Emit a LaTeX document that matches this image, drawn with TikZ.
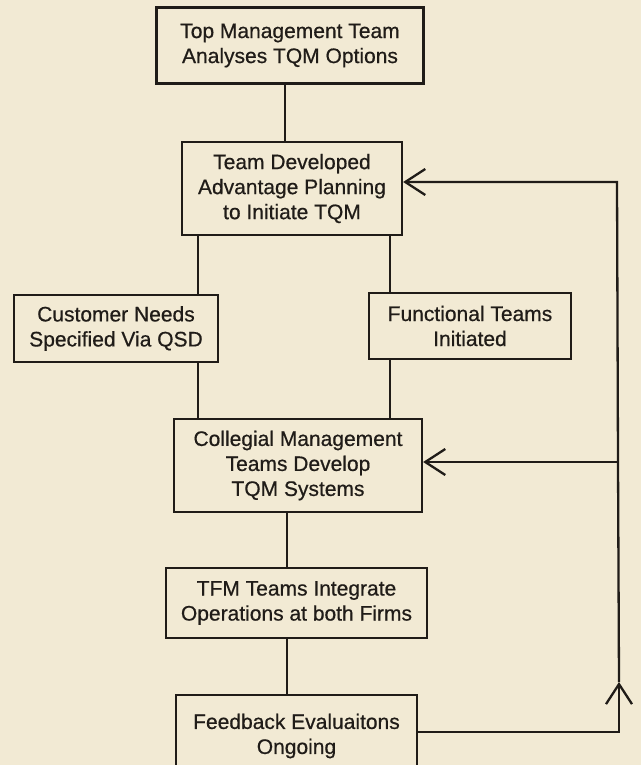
\documentclass[tikz,border=0pt]{standalone}
\usepackage{fontspec}
\setmainfont{Liberation Sans}[UprightFeatures={FakeBold=0.6}]
\usetikzlibrary{arrows.meta}
\definecolor{paper}{RGB}{242,234,212}
\definecolor{ink}{RGB}{32,28,24}
\begin{document}
\begin{tikzpicture}[x=1pt,y=-1pt,
  box/.style={draw=ink,line width=2.3pt,inner sep=0pt,align=center,text=ink,
    font=\fontsize{21}{25}\selectfont},
  conn/.style={draw=ink,line width=2.3pt},
  barb/.style={-{Straight Barb[length=20pt,width=26pt,line width=2.3pt]}}]
\fill[paper] (0,0) rectangle (641,765);
\useasboundingbox (0,0) rectangle (641,765);
\node[box,minimum width=267pt,minimum height=76pt] (b1) at (290,45.5) {Top Management Team\\Analyses TQM Options};
\node[box,minimum width=220pt,minimum height=93pt] (b2) at (292,188.5) {Team Developed\\Advantage Planning\\to Initiate TQM};
\node[box,minimum width=204pt,minimum height=67pt] (b3) at (116,328.5) {Customer Needs\\Specified Via QSD};
\node[box,minimum width=202pt,minimum height=66pt] (b4) at (470,326) {Functional Teams\\Initiated};
\node[box,minimum width=248pt,minimum height=93pt] (b5) at (298,465.5) {Collegial Management\\Teams Develop\\TQM Systems};
\node[box,minimum width=261pt,minimum height=70pt] (b6) at (296.5,603) {TFM Teams Integrate\\Operations at both Firms};
\node[box,minimum width=241pt,minimum height=82pt] (b7) at (296.5,736) {Feedback Evaluaitons\\Ongoing};
\coordinate (x285) at (285,0);
\coordinate (x198) at (198,0);
\coordinate (x390) at (390,0);
\coordinate (x287) at (287,0);
\coordinate (fbR) at (619,732);
\coordinate (fbArr) at (619,682);
\coordinate (fbMid) at (618,462);
\coordinate (fbTop) at (617,182);
\draw[conn] (b1.south -| x285) -- (b2.north -| x285);
\draw[conn] (b2.south -| x198) -- (b3.north -| x198);
\draw[conn] (b2.south -| x390) -- (b4.north -| x390);
\draw[conn] (b3.south -| x198) -- (b5.north -| x198);
\draw[conn] (b4.south -| x390) -- (b5.north -| x390);
\draw[conn] (b5.south -| x287) -- (b6.north -| x287);
\draw[conn] (b6.south -| x287) -- (b7.north -| x287);
\draw[conn,barb] (b7.east |- fbR) -- (fbR) -- (fbArr);
\draw[conn,barb] (fbArr) -- (fbMid) -- (fbTop) -- (b2.east |- fbTop);
\draw[conn,barb] (fbMid) -- (b5.east |- fbMid);
\end{tikzpicture}
\end{document}
